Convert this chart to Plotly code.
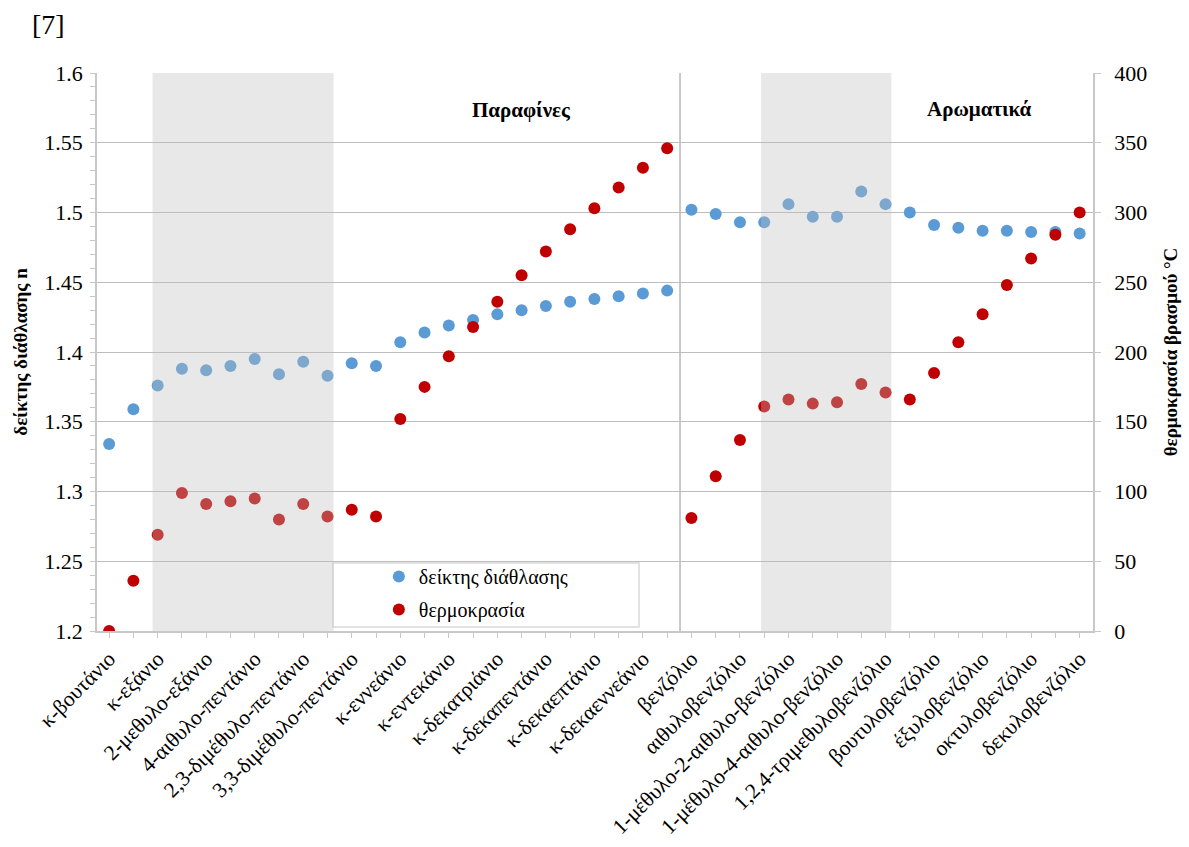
import plotly.graph_objects as go

# Compounds in plotting order (paraffins, then aromatics)
compounds = [
    "κ-βουτάνιο", "κ-πεντάνιο", "κ-εξάνιο", "κ-επτάνιο", "2-μεθυλο-εξάνιο",
    "3-μεθυλο-εξάνιο", "4-αιθυλο-πεντάνιο", "2,4-διμέθυλο-πεντάνιο",
    "2,3-διμέθυλο-πεντάνιο", "2,2-διμέθυλο-πεντάνιο", "3,3-διμέθυλο-πεντάνιο",
    "κ-οκτάνιο", "κ-εννεάνιο", "κ-δεκάνιο", "κ-εντεκάνιο", "κ-δωδεκάνιο",
    "κ-δεκατριάνιο", "κ-δεκατετράνιο", "κ-δεκαπεντάνιο", "κ-δεκαεξάνιο",
    "κ-δεκαεπτάνιο", "κ-δεκαοκτάνιο", "κ-δεκαεννεάνιο", "κ-εικοσάνιο",
    "βενζόλιο", "τολουόλιο", "αιθυλοβενζόλιο", "προπυλοβενζόλιο",
    "1-μέθυλο-2-αιθυλο-βενζόλιο", "1-μέθυλο-3-αιθυλο-βενζόλιο",
    "1-μέθυλο-4-αιθυλο-βενζόλιο", "1,2,3-τριμεθυλοβενζόλιο",
    "1,2,4-τριμεθυλοβενζόλιο", "1,3,5-τριμεθυλοβενζόλιο", "βουτυλοβενζόλιο",
    "πεντυλοβενζόλιο", "έξυλοβενζόλιο", "επτυλοβενζόλιο", "οκτυλοβενζόλιο",
    "εννεϋλοβενζόλιο", "δεκυλοβενζόλιο",
]

# Axis labels: every second compound is labelled
tick_labels = [
    "κ-βουτάνιο", "", "κ-εξάνιο", "", "2-μεθυλο-εξάνιο",
    "", "4-αιθυλο-πεντάνιο", "",
    "2,3-διμέθυλο-πεντάνιο", "", "3,3-διμέθυλο-πεντάνιο",
    "", "κ-εννεάνιο", "", "κ-εντεκάνιο", "",
    "κ-δεκατριάνιο", "", "κ-δεκαπεντάνιο", "",
    "κ-δεκαεπτάνιο", "", "κ-δεκαεννεάνιο", "",
    "βενζόλιο", "", "αιθυλοβενζόλιο", "",
    "1-μέθυλο-2-αιθυλο-βενζόλιο", "",
    "1-μέθυλο-4-αιθυλο-βενζόλιο", "",
    "1,2,4-τριμεθυλοβενζόλιο", "", "βουτυλοβενζόλιο",
    "", "έξυλοβενζόλιο", "", "οκτυλοβενζόλιο",
    "", "δεκυλοβενζόλιο",
]

# Refractive index n
refractive_index = [
    1.334, 1.359, 1.376, 1.388, 1.387, 1.390, 1.395, 1.384, 1.393, 1.383,
    1.392, 1.390, 1.407, 1.414, 1.419, 1.423, 1.427, 1.430, 1.433, 1.436,
    1.438, 1.440, 1.442, 1.444,
    1.502, 1.499, 1.493, 1.493, 1.506, 1.497, 1.497, 1.515, 1.506, 1.500,
    1.491, 1.489, 1.487, 1.487, 1.486, 1.486, 1.485,
]

# Boiling point, °C
boiling_point = [
    0, 36, 69, 99, 91, 93, 95, 80, 91, 82,
    87, 82, 152, 175, 197, 218, 236, 255, 272, 288,
    303, 318, 332, 346,
    81, 111, 137, 161, 166, 163, 164, 177, 171, 166,
    185, 207, 227, 248, 267, 284, 300,
]

n_ticks = [1.2, 1.25, 1.3, 1.35, 1.4, 1.45, 1.5, 1.55, 1.6]
t_ticks = [0, 50, 100, 150, 200, 250, 300, 350, 400]

SERIF = "Liberation Serif"
BLUE = "#5B9BD5"
RED = "#C00000"
AXIS_GREY = "#c8c8c8"
GRID_GREY = "#bdbdbd"

fig = go.Figure()

fig.add_trace(go.Scatter(
    x=compounds, y=refractive_index, name="δείκτης διάθλασης",
    mode="markers", marker=dict(color=BLUE, size=12),
    yaxis="y", legendgroup="n",
))
fig.add_trace(go.Scatter(
    x=compounds, y=boiling_point, name="θερμοκρασία",
    mode="markers", marker=dict(color=RED, size=12),
    yaxis="y2", legendgroup="t",
))

# Shaded bands over the branched paraffins and substituted benzenes
for x0, x1 in [(1.79, 9.25), (26.87, 32.24)]:
    fig.add_shape(type="rect", xref="x", yref="paper", x0=x0, x1=x1, y0=0, y1=1,
                  fillcolor="rgba(190,190,190,0.354)", line=dict(width=0),
                  layer="above")

# Divider between paraffins and aromatics
fig.add_shape(type="line", xref="x", yref="paper", x0=23.53, x1=23.53, y0=0, y1=1,
              line=dict(color=AXIS_GREY, width=2), layer="between")

# Legend frame
fig.add_shape(type="rect", xref="paper", yref="paper",
              x0=0.2369, x1=0.5442, y0=0.0072, y1=0.1219,
              fillcolor="white", line=dict(color="#d9d9d9", width=1.5),
              layer="between")

fig.add_annotation(text="Παραφίνες", xref="paper", yref="paper", x=0.4267, y=0.934,
                   xanchor="center", yanchor="middle", showarrow=False,
                   font=dict(family=SERIF, size=21, color="black", weight="bold"))
fig.add_annotation(text="Αρωματικά", xref="paper", yref="paper", x=0.8865, y=0.936,
                   xanchor="center", yanchor="middle", showarrow=False,
                   font=dict(family=SERIF, size=21, color="black", weight="bold"))
fig.add_annotation(text="[7]", xref="paper", yref="paper", x=-0.0482, y=1.0874,
                   xanchor="center", yanchor="middle", showarrow=False,
                   font=dict(family=SERIF, size=28, color="black"))

fig.update_layout(
    width=1189, height=847,
    margin=dict(l=97, r=96, t=73, b=216, autoexpand=False),
    paper_bgcolor="white", plot_bgcolor="white",
    font=dict(family=SERIF, color="black"),
    showlegend=True,
    legend=dict(
        x=0.283, y=0.1325, xanchor="left", yanchor="top",
        bgcolor="rgba(0,0,0,0)", borderwidth=0,
        font=dict(family=SERIF, size=20, color="black"),
        tracegroupgap=4,
    ),
    xaxis=dict(
        type="category", categoryorder="array", categoryarray=compounds,
        range=[-0.5, 40.55], automargin=False,
        tickmode="array", tickvals=compounds, ticktext=tick_labels,
        tickangle=-45, tickfont=dict(family=SERIF, size=21.5),
        ticks="outside", ticklen=5, tickcolor=AXIS_GREY,
        showline=True, linecolor=AXIS_GREY, linewidth=1.5,
        showgrid=False, zeroline=False,
    ),
    yaxis=dict(
        range=[1.2, 1.6], tickmode="array", tickvals=n_ticks, automargin=False,
        ticktext=[f"{v:g}" for v in n_ticks],
        tickfont=dict(family=SERIF, size=22),
        ticks="outside", ticklen=5, tickcolor=AXIS_GREY, ticklabelstandoff=3,
        minor=dict(dtick=0.01, ticks="outside", ticklen=5, tickcolor=AXIS_GREY, showgrid=False),
        showline=True, linecolor=AXIS_GREY, linewidth=1.5,
        showgrid=True, gridcolor=GRID_GREY, gridwidth=1.2, zeroline=False,
        title=dict(text="δείκτης διάθλασης n", standoff=12,
                   font=dict(family=SERIF, size=19, weight="bold")),
    ),
    yaxis2=dict(
        overlaying="y", side="right", anchor="x", automargin=False,
        range=[0, 400], tickmode="array", tickvals=t_ticks,
        tickfont=dict(family=SERIF, size=22),
        ticks="outside", ticklen=6, tickcolor=AXIS_GREY, ticklabelstandoff=9,
        showline=True, linecolor=AXIS_GREY, linewidth=1.5,
        showgrid=False, zeroline=False,
        title=dict(text="θερμοκρασία βρασμού °C", standoff=18,
                   font=dict(family=SERIF, size=19, weight="bold")),
    ),
)

fig.write_html("out.html")
